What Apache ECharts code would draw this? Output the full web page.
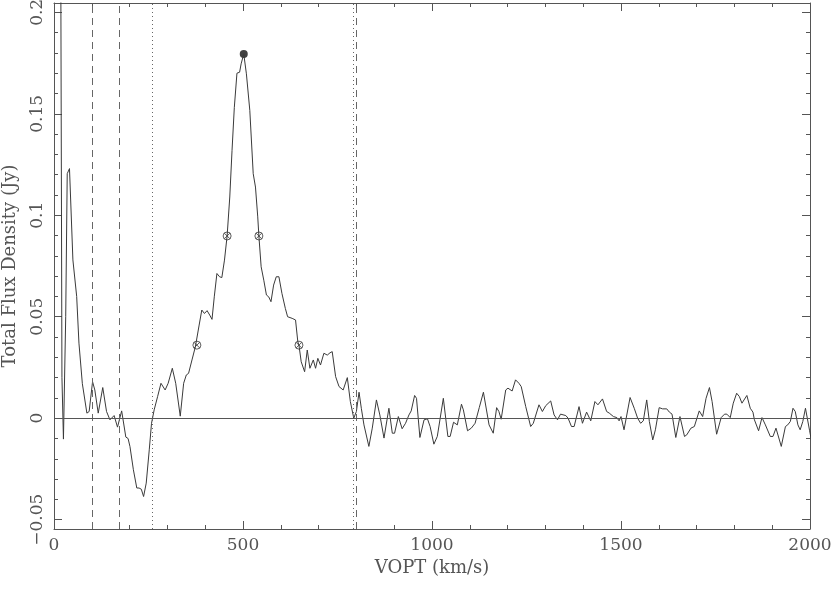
<!DOCTYPE html>
<html>
<head>
<meta charset="utf-8">
<script src="https://cdn.jsdelivr.net/npm/echarts@6/dist/echarts.min.js"></script>
<style>
html,body{margin:0;padding:0;background:#fff;}
#chart{width:831px;height:592px;}
</style>
</head>
<body>
<div id="chart"></div>
<script>
// spectrum, velocity (km/s) and flux (Jy)
var velocity = [16,21,25,31,35,41,50,60,66,75,87,93,102,108,117,129,139,148,159,168,179,190,196,201,210,219,225,231,237,244,252,258,265,274,283,294,302,313,322,334,
  343,350,356,365,374,384,391,398,405,412,418,424,431,438,444,451,458,465,471,477,484,491,495,502,509,518,527,533,539,542,548,555,562,568,574,581,588,595,603,612,618,630,639,645,648,654,663,670,677,686,692,698,705,714,723,730,736,745,754,765,776,784,793,800,807,
  813,820,833,842,853,862,873,886,895,901,911,921,930,939,945,954,959,968,979,988,995,1005,1014,1030,1042,1048,1057,1067,1078,1083,1094,1104,1114,1125,1136,1140,1151,1162,1171,1177,1183,
  1195,1201,1212,1221,1230,1236,1248,1261,1268,1283,1292,1301,1314,1323,1332,1340,1354,1360,1369,1376,1389,1398,1409,1420,1431,1439,1451,1462,1469,1473,1480,1489,1495,1500,1508,1524,1535,1544,1552,1559,1568,
  1575,1584,1591,1601,1610,1621,1628,1635,1645,1656,1668,1674,1685,1694,1698,1707,1716,1725,1734,1741,1753,1765,1774,1780,1789,1797,1806,1813,1820,1833,1842,1849,1853,1864,1873,1882,1895,1902,1910,1924,1935,1941,1948,1955,1961,1968,1974,1981,1988,1991,1999,2005];
var flux = [0.35,0.02,-0.0103,0.050,0.1205,0.123,0.078,0.060,0.037,0.017,0.0025,0.0033,0.018,0.0139,0.0025,0.0151,0.0033,-0.0008,0.0013,-0.0044,0.0036,-0.0093,-0.0100,-0.014,-0.0254,-0.0344,-0.0344,-0.035,-0.0386,-0.032,-0.0156,-0.0025,0.0041,0.0106,0.0172,0.0139,0.0172,0.0246,0.0172,0.0010,
  0.0172,0.0213,0.0221,0.0287,0.0352,0.0459,0.0533,0.0516,0.053,0.0508,0.0487,0.0598,0.0713,0.0697,0.0693,0.0779,0.0898,0.109,0.132,0.153,0.170,0.1705,0.1746,0.1795,0.1697,0.1517,0.1205,0.1139,0.0992,0.0898,0.0746,0.068,0.0607,0.0598,0.0574,0.0656,0.0697,0.0697,0.0615,0.0541,0.050,0.0492,0.0484,0.0377,0.036,0.0278,0.0229,0.0336,0.0246,0.0287,0.0246,0.0295,0.0262,0.032,0.0311,0.0322,0.0328,0.0205,0.0156,0.0139,0.020,0.0082,0.0,0.0033,0.0128,
  0.0049,-0.0033,-0.0139,-0.0049,0.009,0.0016,-0.0098,0.0049,-0.0074,-0.0074,0.0008,-0.0052,-0.0025,0.0016,0.0036,0.0112,0.0098,-0.0095,-0.0008,-0.0003,-0.0041,-0.0128,-0.009,0.0098,-0.009,-0.009,-0.002,-0.0033,0.0069,0.0041,-0.0062,-0.0049,-0.0025,0.0052,0.0128,0.0123,-0.0033,-0.0074,0.0052,0.0033,-0.0005,
  0.0139,0.0148,0.0134,0.0189,0.0172,0.0156,0.0057,-0.0041,-0.0025,0.0066,0.0033,0.0062,0.0085,0.0016,-0.0008,0.002,0.0013,0.0,-0.0041,-0.0041,0.0057,-0.0025,0.003,-0.0013,0.0082,0.0066,0.0095,0.0033,0.0025,0.0033,0.0008,0.0003,-0.0013,0.0008,-0.0057,0.0102,0.0049,0.0,-0.0025,-0.0013,0.009,
  -0.0016,-0.0107,-0.0057,0.0052,0.0046,0.0046,0.003,0.002,-0.0095,0.0008,-0.009,-0.0082,-0.0049,-0.0041,-0.0041,0.0036,0.0008,0.0098,0.0151,0.0082,-0.0079,0.0003,0.002,0.002,0.0003,0.0074,0.0123,0.0107,0.0074,0.0112,0.0049,0.003,-0.0008,-0.0062,0.0003,-0.0033,-0.009,-0.009,-0.0049,-0.0139,-0.0041,-0.0033,-0.0016,0.0049,0.0033,-0.0033,-0.0057,-0.0016,0.0049,0.0049,-0.0062,-0.012];

// peak and width markers
var peakPoint = [502, 0.1795];
var widthVel = [378, 458, 542, 648];
var widthFlux = [0.036, 0.0898, 0.0898, 0.036];

// vertical marker lines
var dashedLines = [100, 172, 799];
var dottedLines = [261, 791];

// axes
var xTicks = [0, 500, 1000, 1500, 2000];
var yMajor = [-0.05, 0, 0.05, 0.1, 0.15, 0.2];
var yMinor = [];
for (var t = -5; t <= 20; t++) yMinor.push(t / 100);
var yMin = -0.0546, yMax = 0.2046;

var axisCol = '#555';
var textCol = '#555';
var font = 'DejaVu Serif';

var chart = echarts.init(document.getElementById('chart'));

var spectrum = [];
for (var i = 0; i < velocity.length; i++) spectrum.push([velocity[i], flux[i]]);
var widthPts = [];
for (var j = 0; j < widthVel.length; j++) widthPts.push([widthVel[j], widthFlux[j]]);

var vLines = [];
dashedLines.forEach(function (v) {
    vLines.push({xAxis: v, lineStyle: {type: [7, 5], color: '#666', width: 1}});
});
dottedLines.forEach(function (v) {
    vLines.push({xAxis: v, lineStyle: {type: [1, 3], color: '#666', width: 1}});
});
vLines.push({yAxis: 0, lineStyle: {type: 'solid', color: axisCol, width: 1}});

function xAx(pos, labels) {
    return {
        type: 'value', position: pos, min: 0, max: 2000, interval: 500,
        axisLine: {show: true, onZero: false, lineStyle: {color: axisCol, width: 1}},
        axisTick: {show: true, inside: true, length: 8, lineStyle: {color: axisCol}},
        minorTick: {show: true, splitNumber: 5, length: 4, lineStyle: {color: axisCol}},
        axisLabel: {show: labels, margin: 8, color: textCol, fontFamily: font, fontSize: 17,
            customValues: xTicks,
            formatter: function (v) { return String(v); }},
        splitLine: {show: false},
        name: labels ? 'VOPT (km/s)' : '',
        nameLocation: 'middle', nameGap: 27,
        nameTextStyle: {color: textCol, fontFamily: font, fontSize: 18}
    };
}
function yAx(pos, vals, len, main, labels) {
    return {
        type: 'value', position: pos, min: yMin, max: yMax,
        axisLine: {show: main, onZero: false, lineStyle: {color: axisCol, width: 1}},
        axisTick: {show: true, inside: true, length: len, customValues: vals, lineStyle: {color: axisCol}},
        axisLabel: {show: labels, rotate: 90, margin: 8, color: textCol, fontFamily: font, fontSize: 17,
            customValues: yMajor,
            formatter: function (v) {
                var s = String(Math.round(v * 100) / 100);
                return s.replace('-', '\u2212');
            }},
        splitLine: {show: false},
        name: labels ? 'Total Flux Density (Jy)' : '',
        nameLocation: 'middle', nameGap: 35, nameRotate: 90,
        nameTextStyle: {color: textCol, fontFamily: font, fontSize: 18}
    };
}

var option = {
    animation: false,
    backgroundColor: '#fff',
    grid: {left: 54, right: 21, top: 3, bottom: 63, containLabel: false, outerBoundsMode: 'none'},
    xAxis: [xAx('bottom', true), xAx('top', false)],
    yAxis: [
        yAx('left', yMajor, 8, true, true),
        yAx('left', yMinor, 4, false, false),
        yAx('right', yMajor, 8, true, false),
        yAx('right', yMinor, 4, false, false)
    ],
    series: [
        {
            type: 'line', data: spectrum, showSymbol: false, clip: true,
            lineStyle: {color: '#3a3a3a', width: 1},
            markLine: {silent: true, symbol: 'none', label: {show: false}, data: vLines}
        },
        {
            type: 'scatter', data: widthPts, symbolSize: 8,
            symbol: 'path://M10,0A10,10,0,1,1,-10,0A10,10,0,1,1,10,0ZM-7.07,-7.07L7.07,7.07M-7.07,7.07L7.07,-7.07',
            itemStyle: {color: 'rgba(255,255,255,1)', borderColor: '#333', borderWidth: 1}
        },
        {
            type: 'scatter', data: [peakPoint], symbol: 'circle', symbolSize: 8,
            itemStyle: {color: '#111'}
        }
    ]
};
chart.setOption(option);
window.onresize = chart.resize;
</script>
</body>
</html>
